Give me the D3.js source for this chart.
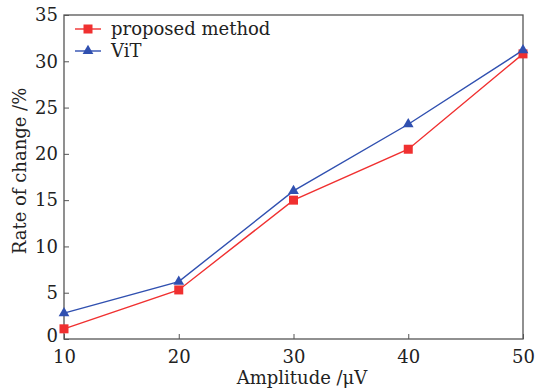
<!DOCTYPE html>
<html><head><meta charset="utf-8">
<script src="https://cdn.jsdelivr.net/npm/d3@7"></script>
<style>body{margin:0;background:#fff}svg text{font-family:"DejaVu Serif",serif;fill:#222}</style>
</head><body><svg id="c" width="536" height="388"></svg>
<script>
const amplitudes = [10, 20, 30, 40, 50];
const proposed = [1.1, 5.3, 15.0, 20.5, 30.8];
const vit = [2.8, 6.2, 16.0, 23.2, 31.2];
const yTicks = [0, 5, 10, 15, 20, 25, 30, 35];
const xTicks = [10, 20, 30, 40, 50];
const seriesNames = ["proposed method", "ViT"];
const colors = ["#f03030", "#3050b0"];

const svg = d3.select("#c");
const m = {l: 64, r: 13, t: 15, b: 49};
const W = 536 - m.l - m.r, H = 388 - m.t - m.b;
const x = d3.scaleLinear().domain([10, 50]).range([m.l, m.l + W]);
const y = d3.scaleLinear().domain([0, 35]).range([m.t + H, m.t]);

svg.append("rect").attr("x", m.l).attr("y", m.t).attr("width", W).attr("height", H)
  .attr("fill", "none").attr("stroke", "#555").attr("stroke-width", 1.3);

const xa = svg.append("g").attr("transform", `translate(0,${m.t + H})`)
  .call(d3.axisBottom(x).tickValues(xTicks).tickSize(-5).tickPadding(11).tickFormat(d3.format("d")));
const ya = svg.append("g").attr("transform", `translate(${m.l},0)`)
  .call(d3.axisLeft(y).tickValues(yTicks).tickSize(-5).tickPadding(6).tickFormat(d3.format("d")));
[xa, ya].forEach(a => {
  a.select(".domain").remove();
  a.selectAll("line").attr("stroke", "#555");
  a.selectAll("text").attr("font-size", 18).attr("font-family", "DejaVu Serif").attr("fill", "#222");
});
// nudge the zero label up slightly so it does not collide with the first x label
ya.selectAll(".tick").filter(d => d === 0).select("text").attr("y", -3);

svg.append("text").attr("x", 302).attr("y", 384).attr("text-anchor", "middle")
  .attr("font-size", 18).text("Amplitude /μV");
svg.append("text").attr("transform", `translate(26,171) rotate(-90)`)
  .attr("text-anchor", "middle").attr("font-size", 18).text("Rate of change /%");

const line = d3.line().x((d, i) => x(amplitudes[i])).y(d => y(d));
const data = [proposed, vit];
data.forEach((s, k) => {
  svg.append("path").datum(s).attr("d", line).attr("fill", "none")
    .attr("stroke", colors[k]).attr("stroke-width", 1.4);
});
// markers
svg.selectAll(".sq").data(proposed).enter().append("rect")
  .attr("x", (d, i) => x(amplitudes[i]) - 4.5).attr("y", d => y(d) - 4.5)
  .attr("width", 9).attr("height", 9).attr("fill", colors[0]);
const tri = d3.symbol().type(d3.symbolTriangle).size(50);
svg.selectAll(".tr").data(vit).enter().append("path")
  .attr("d", tri).attr("fill", colors[1])
  .attr("transform", (d, i) => `translate(${x(amplitudes[i])},${y(d)})`);

// legend
const lg = svg.append("g");
seriesNames.forEach((n, k) => {
  const yy = 29 + k * 22;
  lg.append("line").attr("x1", 75).attr("x2", 101).attr("y1", yy).attr("y2", yy)
    .attr("stroke", colors[k]).attr("stroke-width", 1.4);
  if (k === 0) lg.append("rect").attr("x", 83.5).attr("y", yy - 4.5).attr("width", 9).attr("height", 9).attr("fill", colors[0]);
  else lg.append("path").attr("d", tri).attr("fill", colors[1]).attr("transform", `translate(88,${yy})`);
  lg.append("text").attr("x", 111).attr("y", yy + 6).attr("font-size", 18).text(n);
});
</script></body></html>
